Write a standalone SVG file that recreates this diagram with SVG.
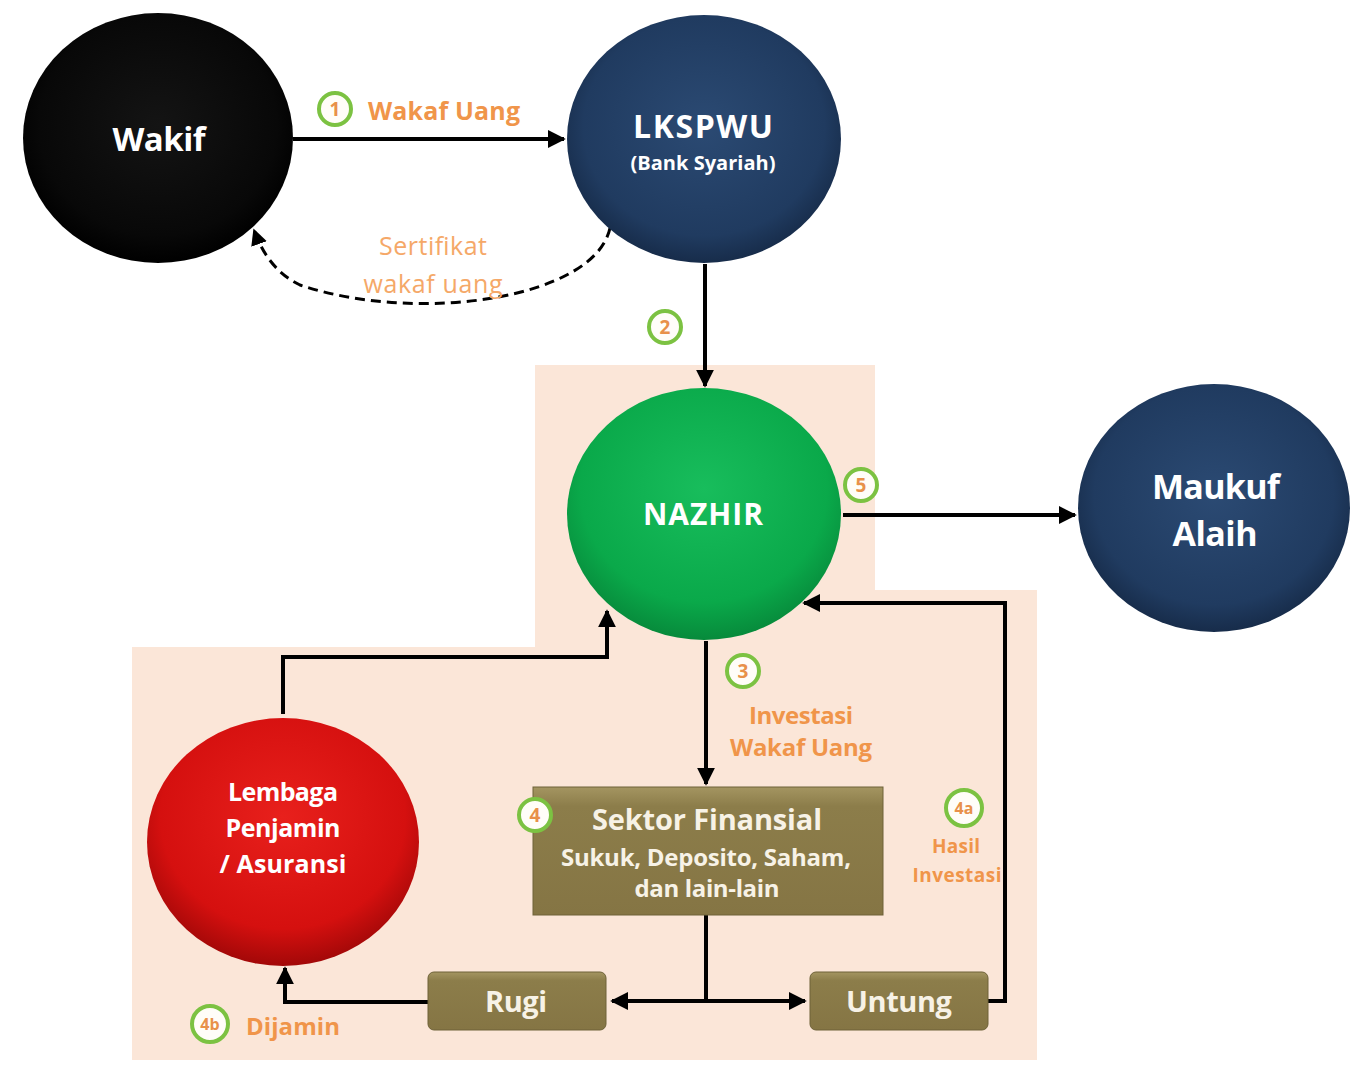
<svg xmlns="http://www.w3.org/2000/svg" width="1357" height="1067" viewBox="0 0 1357 1067">
<style>
.nt{font-family:"Open Sans","Noto Sans","Liberation Sans",sans-serif;font-weight:bold;fill:#ffffff;text-anchor:middle}
.bt{fill:#f7f2e6}
.lb{font-family:"Open Sans","Noto Sans","Liberation Sans",sans-serif;font-weight:bold;fill:#f0954a}
.lt{font-family:"Open Sans","Noto Sans","Liberation Sans",sans-serif;fill:#f5a868;text-anchor:middle}
.num{fill:#fffdf8;stroke:#7cc242;stroke-width:4}
.numt{font-family:"Open Sans","Noto Sans","Liberation Sans",sans-serif;font-weight:bold;fill:#e8914a;text-anchor:middle}
.ln{fill:none;stroke:#000;stroke-width:4}
.box{stroke:#6e6238;stroke-width:1}
</style>
<defs>
<radialGradient id="gBlack" cx="50%" cy="45%" r="55%"><stop offset="0" stop-color="#141414"/><stop offset="0.8" stop-color="#080808"/><stop offset="1" stop-color="#000"/></radialGradient>
<radialGradient id="gBlue" cx="50%" cy="45%" r="55%"><stop offset="0" stop-color="#2b4a73"/><stop offset="0.8" stop-color="#203b60"/><stop offset="1" stop-color="#172c4a"/></radialGradient>
<radialGradient id="gGreen" cx="50%" cy="40%" r="60%"><stop offset="0" stop-color="#18bd5c"/><stop offset="0.75" stop-color="#0aa94a"/><stop offset="1" stop-color="#078a3b"/></radialGradient>
<radialGradient id="gRed" cx="50%" cy="40%" r="60%"><stop offset="0" stop-color="#e8201c"/><stop offset="0.75" stop-color="#d5100f"/><stop offset="1" stop-color="#a20808"/></radialGradient>
<linearGradient id="gBox" x1="0" y1="0" x2="0" y2="1"><stop offset="0" stop-color="#a49561"/><stop offset="0.15" stop-color="#8c7d4a"/><stop offset="1" stop-color="#857544"/></linearGradient>
<marker id="ah" viewBox="0 0 10 10" refX="9" refY="5" markerWidth="4.5" markerHeight="4.5" orient="auto"><path d="M0,0 L10,5 L0,10 Z" fill="#000"/></marker>
<marker id="ahs" viewBox="0 0 10 10" refX="9" refY="5" markerWidth="5.5" markerHeight="5.5" orient="auto"><path d="M0,0 L10,5 L0,10 Z" fill="#000"/></marker>
</defs>
<rect width="1357" height="1067" fill="#ffffff"/>
<path d="M535,365 H875 V590 H1037 V1060 H132 V647 H535 Z" fill="#fbe6d8"/>

<g id="connectors">
<line class="ln" x1="293" y1="139" x2="564" y2="139" marker-end="url(#ah)"/>
<path d="M610,228 C595,298 420,325 300,285 C275,273 262,252 254,230" fill="none" stroke="#000" stroke-width="3" stroke-dasharray="10,6" marker-end="url(#ahs)"/>
<line class="ln" x1="705" y1="264" x2="705" y2="386" marker-end="url(#ah)"/>
<line class="ln" x1="843" y1="515" x2="1075" y2="515" marker-end="url(#ah)"/>
<line class="ln" x1="706" y1="641" x2="706" y2="784" marker-end="url(#ah)"/>
<line class="ln" x1="706" y1="915" x2="706" y2="1001"/>
<line class="ln" x1="706" y1="1001" x2="612" y2="1001" marker-end="url(#ah)"/>
<line class="ln" x1="706" y1="1001" x2="805" y2="1001" marker-end="url(#ah)"/>
<path class="ln" d="M988,1001 H1005 V603 H804" marker-end="url(#ah)"/>
<path class="ln" d="M428,1002 H285 V968" marker-end="url(#ah)"/>
<path class="ln" d="M283,714 V657 H607 V611" marker-end="url(#ah)"/>
</g>

<g id="wakif">
<ellipse cx="158" cy="138" rx="135" ry="125" fill="url(#gBlack)"/>
<text class="nt" x="159" y="151" font-size="33" textLength="93" lengthAdjust="spacing">Wakif</text>
</g>
<g id="lkspwu">
<ellipse cx="704" cy="139" rx="137" ry="124" fill="url(#gBlue)"/>
<text class="nt" x="703" y="138" font-size="32" textLength="140" lengthAdjust="spacing">LKSPWU</text>
<text class="nt" x="703" y="170" font-size="20" textLength="145" lengthAdjust="spacing">(Bank Syariah)</text>
</g>
<g id="nazhir">
<ellipse cx="704" cy="514" rx="137" ry="126" fill="url(#gGreen)"/>
<text class="nt" x="703" y="525" font-size="30" textLength="120" lengthAdjust="spacing">NAZHIR</text>
</g>
<g id="maukuf">
<ellipse cx="1214" cy="508" rx="136" ry="124" fill="url(#gBlue)"/>
<text class="nt" x="1216" y="499" font-size="34" textLength="128" lengthAdjust="spacing">Maukuf</text>
<text class="nt" x="1215" y="546" font-size="34" textLength="85" lengthAdjust="spacing">Alaih</text>
</g>
<g id="lembaga">
<ellipse cx="283" cy="842" rx="136" ry="124" fill="url(#gRed)"/>
<text class="nt" x="283" y="801" font-size="25" textLength="110" lengthAdjust="spacing">Lembaga</text>
<text class="nt" x="283" y="837" font-size="25" textLength="115" lengthAdjust="spacing">Penjamin</text>
<text class="nt" x="283" y="873" font-size="25" textLength="127" lengthAdjust="spacing">/ Asuransi</text>
</g>
<g id="sektor">
<rect class="box" x="533" y="787" width="350" height="128" fill="url(#gBox)"/>
<text class="nt bt" x="707" y="830" font-size="29" textLength="230" lengthAdjust="spacing">Sektor Finansial</text>
<text class="nt bt" x="706" y="866" font-size="24" textLength="290" lengthAdjust="spacing">Sukuk, Deposito, Saham,</text>
<text class="nt bt" x="707" y="897" font-size="24" textLength="145" lengthAdjust="spacing">dan lain-lain</text>
</g>
<g id="rugi">
<rect class="box" x="428" y="972" width="178" height="58" rx="6" fill="url(#gBox)"/>
<text class="nt bt" x="516" y="1012" font-size="29" textLength="62" lengthAdjust="spacing">Rugi</text>
</g>
<g id="untung">
<rect class="box" x="810" y="972" width="178" height="58" rx="6" fill="url(#gBox)"/>
<text class="nt bt" x="899" y="1012" font-size="29" textLength="106" lengthAdjust="spacing">Untung</text>
</g>

<g id="labels">
<circle class="num" cx="335" cy="109" r="16"/><text class="numt" x="335" y="116" font-size="19">1</text>
<text class="lb" x="368" y="120" font-size="25" textLength="152" lengthAdjust="spacing">Wakaf Uang</text>
<text class="lt" x="433" y="255" font-size="25" textLength="108" lengthAdjust="spacing">Sertifikat</text>
<text class="lt" x="433" y="293" font-size="25" textLength="139" lengthAdjust="spacing">wakaf uang</text>
<circle class="num" cx="665" cy="327" r="16"/><text class="numt" x="665" y="334" font-size="19">2</text>
<circle class="num" cx="861" cy="485" r="16"/><text class="numt" x="861" y="492" font-size="19">5</text>
<circle class="num" cx="743" cy="671" r="16"/><text class="numt" x="743" y="678" font-size="19">3</text>
<text class="lb" x="801" y="724" font-size="24" text-anchor="middle" textLength="104" lengthAdjust="spacing">Investasi</text>
<text class="lb" x="801" y="756" font-size="24" text-anchor="middle" textLength="142" lengthAdjust="spacing">Wakaf Uang</text>
<circle class="num" cx="535" cy="815" r="16"/><text class="numt" x="535" y="822" font-size="19">4</text>
<circle class="num" cx="964" cy="808" r="18"/><text class="numt" x="964" y="814" font-size="16">4a</text>
<text class="lb" x="956" y="853" font-size="19" text-anchor="middle" textLength="48" lengthAdjust="spacing">Hasil</text>
<text class="lb" x="957" y="882" font-size="19" text-anchor="middle" textLength="89" lengthAdjust="spacing">Investasi</text>
<circle class="num" cx="210" cy="1024" r="18"/><text class="numt" x="210" y="1030" font-size="16">4b</text>
<text class="lb" x="246" y="1035" font-size="24" textLength="94" lengthAdjust="spacing">Dijamin</text>
</g>
</svg>
